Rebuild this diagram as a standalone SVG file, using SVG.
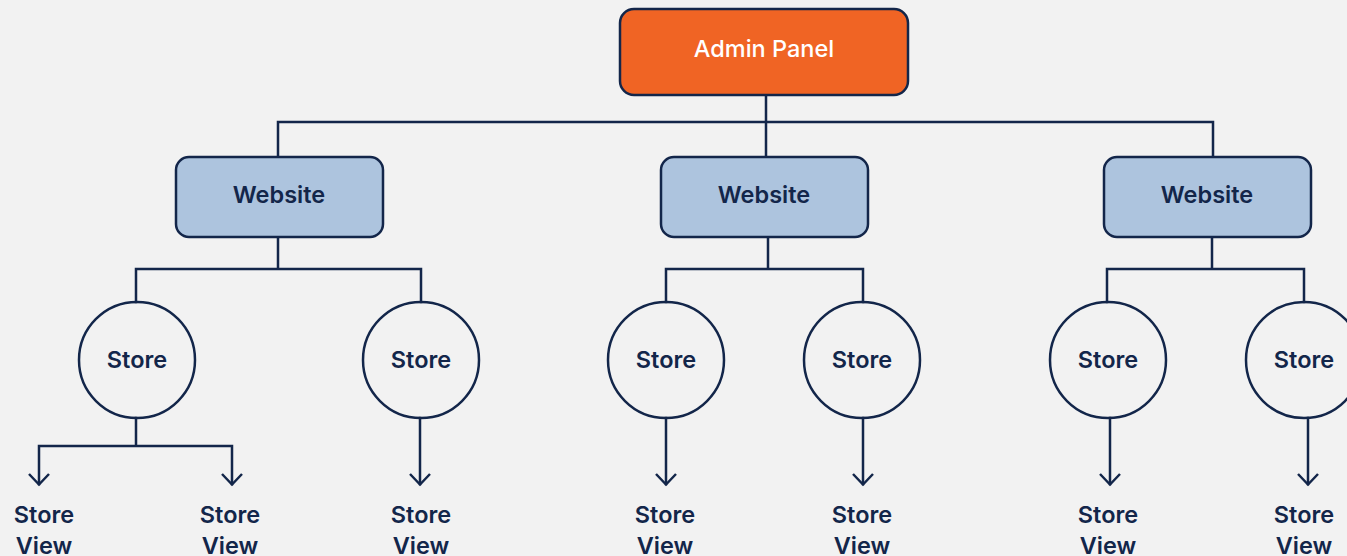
<svg xmlns="http://www.w3.org/2000/svg" width="1347" height="556" viewBox="0 0 1347 556">
<defs>
<style>
.bg{fill:#f2f2f2}
.ln{fill:none;stroke:#13264a;stroke-width:2.5;stroke-linecap:square;stroke-linejoin:miter}
.ah{fill:none;stroke:#13264a;stroke-width:2.5;stroke-linecap:butt;stroke-linejoin:miter}
.admin{fill:#f06424;stroke:#13264a;stroke-width:2.5}
.web{fill:#adc4de;stroke:#13264a;stroke-width:2.5}
.store{fill:none;stroke:#13264a;stroke-width:2.5}
.t{font-family:Inter,"Liberation Sans",sans-serif;font-size:23.5px;font-weight:600;fill:#13264a;text-anchor:middle}
.tw{font-family:Inter,"Liberation Sans",sans-serif;font-size:23.5px;font-weight:500;fill:#ffffff;text-anchor:middle}
</style>
</defs>
<rect class="bg" x="0" y="0" width="1347" height="556"/>
<g id="connectors">
<path class="ln" d="M766,95 V122 M278,157 V122 H1213 V157 M766,122 V157"/>
<path class="ln" d="M278,237 V269 M136,302 V269 H421 V302"/>
<path class="ln" d="M768,237 V269 M666,302 V269 H863 V302"/>
<path class="ln" d="M1212,237 V269 M1107,302 V269 H1304 V302"/>
<path class="ln" d="M136,418 V446 M39,484 V446 H232 V484"/>
<path class="ln" d="M420,418 V484"/>
<path class="ln" d="M666,418 V484"/>
<path class="ln" d="M863,418 V484"/>
<path class="ln" d="M1110,418 V484"/>
<path class="ln" d="M1308,418 V484"/>
<path class="ah" d="M29,474 L39,484.5 L49,474"/>
<path class="ah" d="M222,474 L232,484.5 L242,474"/>
<path class="ah" d="M410,474 L420,484.5 L430,474"/>
<path class="ah" d="M656,474 L666,484.5 L676,474"/>
<path class="ah" d="M853,474 L863,484.5 L873,474"/>
<path class="ah" d="M1100,474 L1110,484.5 L1120,474"/>
<path class="ah" d="M1298,474 L1308,484.5 L1318,474"/>
</g>
<g id="admin">
<rect class="admin" x="620" y="9" width="288" height="86" rx="14"/>
<text class="tw" x="764" y="57">Admin Panel</text>
</g>
<g id="website1">
<rect class="web" x="176" y="157" width="207" height="80" rx="13"/>
<text class="t" x="279" y="203">Website</text>
</g>
<g id="website2">
<rect class="web" x="661" y="157" width="207" height="80" rx="13"/>
<text class="t" x="764" y="203">Website</text>
</g>
<g id="website3">
<rect class="web" x="1104" y="157" width="207" height="80" rx="13"/>
<text class="t" x="1207" y="203">Website</text>
</g>
<g id="store1"><circle class="store" cx="137" cy="360" r="58"/><text class="t" x="137" y="368">Store</text></g>
<g id="store2"><circle class="store" cx="421" cy="360" r="58"/><text class="t" x="421" y="368">Store</text></g>
<g id="store3"><circle class="store" cx="666" cy="360" r="58"/><text class="t" x="666" y="368">Store</text></g>
<g id="store4"><circle class="store" cx="862" cy="360" r="58"/><text class="t" x="862" y="368">Store</text></g>
<g id="store5"><circle class="store" cx="1108" cy="360" r="58"/><text class="t" x="1108" y="368">Store</text></g>
<g id="store6"><circle class="store" cx="1304" cy="360" r="58"/><text class="t" x="1304" y="368">Store</text></g>
<g id="sv1"><text class="t" x="44" y="523">Store</text><text class="t" x="44" y="554">View</text></g>
<g id="sv2"><text class="t" x="230" y="523">Store</text><text class="t" x="230" y="554">View</text></g>
<g id="sv3"><text class="t" x="421" y="523">Store</text><text class="t" x="421" y="554">View</text></g>
<g id="sv4"><text class="t" x="665" y="523">Store</text><text class="t" x="665" y="554">View</text></g>
<g id="sv5"><text class="t" x="862" y="523">Store</text><text class="t" x="862" y="554">View</text></g>
<g id="sv6"><text class="t" x="1108" y="523">Store</text><text class="t" x="1108" y="554">View</text></g>
<g id="sv7"><text class="t" x="1304" y="523">Store</text><text class="t" x="1304" y="554">View</text></g>
</svg>
